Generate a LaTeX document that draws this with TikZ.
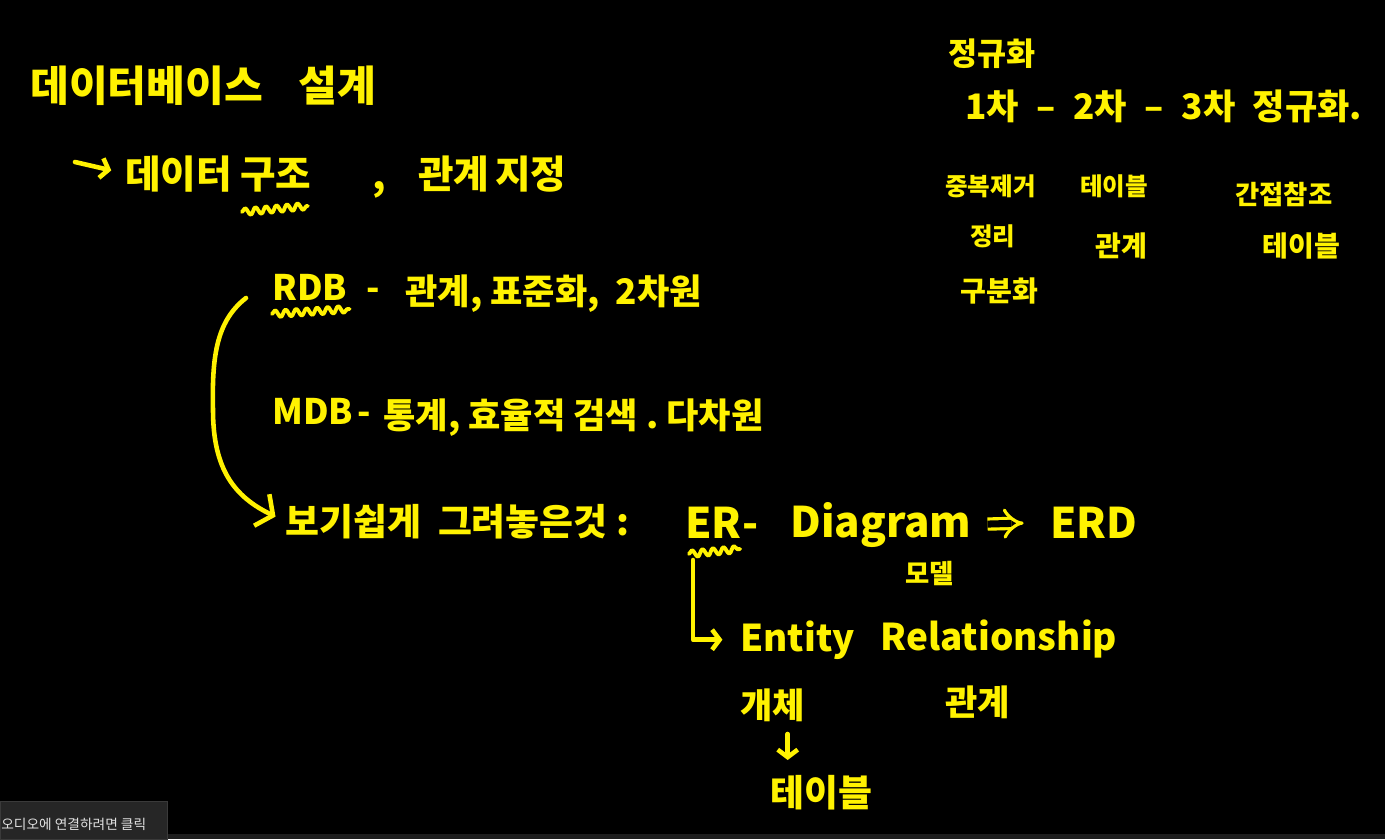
\documentclass[tikz,border=0pt]{standalone}
\usepackage{fontspec}
\setmainfont{Noto Sans CJK KR}
\usetikzlibrary{arrows.meta, positioning, decorations.pathmorphing, calc}
\definecolor{penyellow}{RGB}{255,242,0}
\definecolor{tipgray}{RGB}{38,38,38}
\definecolor{tipborder}{RGB}{58,58,58}
\definecolor{bargray}{RGB}{30,30,30}
\definecolor{tiptext}{RGB}{225,225,225}

\begin{document}
\begin{tikzpicture}[
    x=0.02cm, y=-0.02cm,
    hand/.style={text=penyellow, anchor=base west, inner sep=0pt, font=\fontsize{20}{24}\selectfont\bfseries},
    big/.style={hand, font=\fontsize{24}{28}\selectfont\bfseries},
    mid/.style={hand, font=\fontsize{22}{26}\selectfont\bfseries},
    note/.style={hand, font=\fontsize{15}{18}\selectfont\bfseries},
    pen/.style={draw=penyellow, line width=2.6pt, line cap=round, line join=round},
    line/.style={pen, -{Straight Barb[length=2.5mm, width=7mm]}},
    shortline/.style={pen, -{Straight Barb[length=1.5mm, width=4mm]}},
    implies/.style={draw=penyellow, line width=1.8pt, double=black, double distance=4pt, -{Implies}},
    wavy/.style={pen, line width=2.2pt, decorate, decoration={snake, segment length=6pt, amplitude=2pt}}
]

\useasboundingbox (0,0) rectangle (1385,839);
\fill[black] (0,0) rectangle (1385,839);

% Title
\node[big] (dbtitle) at (30,101) {데이터베이스};
\node[big] (design) at (298,101) {설계};

% Structure line
\coordinate (arrstart) at (75,162);
\node[mid] (data) at (125,188) {데이터};
\node[mid] (gujo) at (240,188) {구조};
\node[mid] (comma) at (372,189) {,};
\node[mid] (gwangye) at (418,188) {관계};
\node[mid] (jijeong) at (495,188) {지정};

% RDB / MDB
\node[hand] (rdb) at (272,300) {RDB};
\node[hand] (rdbdash) at (366,300) {-};
\node[hand] (rdbdesc) at (405,304) {관계,\ 표준화,\ \ 2차원};
\node[hand] (mdb) at (272,424) {MDB};
\node[hand] (mdbdash) at (357,424) {-};
\node[hand] (mdbdesc) at (383,428) {통계,\ 효율적\ 검색\ .\ 다차원};

% ER line
\node[hand, font=\fontsize{21}{25}\selectfont\bfseries] (bogi) at (285,535) {보기쉽게\ \ 그려놓은것\ :};
\node[big] (er) at (685,538) {ER};
\node[big] (erdash) at (742,538) {-};
\node[big] (diagram) at (790,537) {Diagram};
\node[big] (erd) at (1050,538) {ERD};
\node[note] (model) at (905,583) {모델};

% Entity Relationship
\node[hand, font=\fontsize{21}{25}\selectfont\bfseries] (entity) at (740,651) {Entity};
\node[hand, font=\fontsize{21}{25}\selectfont\bfseries] (relation) at (880,650) {Relationship};
\node[hand] (gaeche) at (740,718) {개체};
\node[hand] (gwangye2) at (945,715) {관계};
\node[hand, font=\fontsize{21}{25}\selectfont\bfseries] (table) at (770,806) {테이블};

% Normalization
\node[hand, font=\fontsize{18}{22}\selectfont\bfseries] (norm) at (948,65) {정규화};
\node[hand] (steps) at (965,119) {1차\enspace{}–\enspace{}2차\enspace{}–\enspace{}3차\enspace{}정규화.};
\node[hand, font=\fontsize{14}{17}\selectfont\bfseries] (dedup) at (945,195) {중복제거};
\node[hand, font=\fontsize{14}{17}\selectfont\bfseries] (tidy) at (970,245) {정리};
\node[hand, font=\fontsize{16}{19}\selectfont\bfseries] (split) at (960,301) {구분화};
\node[hand, font=\fontsize{14}{17}\selectfont\bfseries] (tbl2) at (1080,195) {테이블};
\node[hand, font=\fontsize{16}{19}\selectfont\bfseries] (rel2) at (1095,256) {관계};
\node[hand, font=\fontsize{15}{18}\selectfont\bfseries] (indirect) at (1235,204) {간접참조};
\node[hand, font=\fontsize{16}{19}\selectfont\bfseries] (tbl3) at (1262,256) {테이블};

% Connections
\draw[shortline, shorten >=8pt] (arrstart) -- (data.west);
\draw[wavy] ($(gujo.base west)+(2,24)$) -- ($(gujo.base east)+(-4,18)$);
\draw[wavy] ($(rdb.base west)+(0,14)$) -- ($(rdb.base east)+(2,9)$);
\draw[wavy] ($(er.base west)+(4,16)$) -- ($(er.base east)+(-2,11)$);

\coordinate (bendstart) at (246,298);
\draw[line, shorten >=6pt] (bendstart) .. controls (215,322) and (212,360) .. (213,410)
    .. controls (213,470) and (235,497) .. (bogi.west);

\coordinate (erdown) at (693,560);
\draw[shortline, shorten >=10pt] (erdown) |- (entity.west);
\draw[implies, shorten <=9pt, shorten >=15pt] (diagram.east) -- (erd.west);
\draw[shortline] ($(gaeche.base)+(15,16)$) -- ($(gaeche.base)+(15,42)$);

% UI overlay
\fill[bargray] (167,834) rectangle (1385,839);
\filldraw[fill=tipgray, draw=tipborder] (0,801) rectangle (167,839);
\node[anchor=west, inner sep=0pt, text=tiptext, font=\fontsize{7.8}{9}\selectfont] (tooltip) at (1,824) {오디오에 연결하려면 클릭};

\end{tikzpicture}
\end{document}
